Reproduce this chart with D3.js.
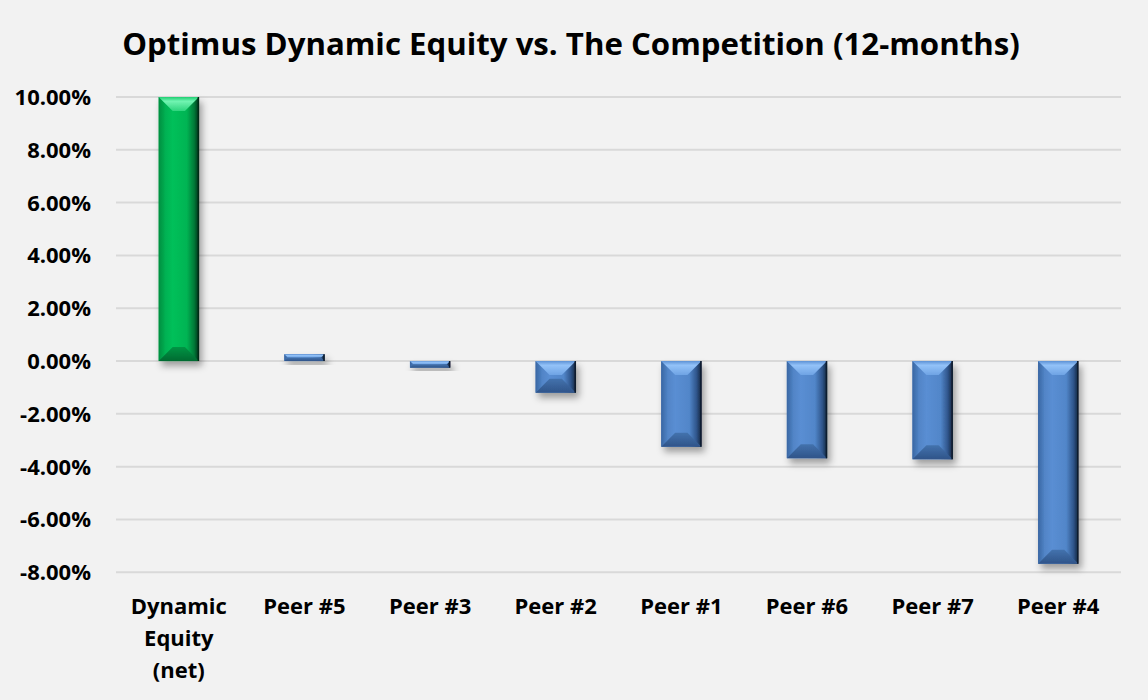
<!DOCTYPE html>
<html>
<head>
<meta charset="utf-8">
<script src="https://cdn.jsdelivr.net/npm/d3@7"></script>
<style>
  html, body { margin: 0; padding: 0; background: #f2f2f2; }
  svg { display: block; }
  text { font-family: "Open Sans", "DejaVu Sans", sans-serif; font-weight: bold; fill: #000; }
</style>
</head>
<body>
<svg id="chart" width="1148" height="700"></svg>
<script>
// ---- Data ----
const categories = ["Dynamic Equity (net)", "Peer #5", "Peer #3", "Peer #2", "Peer #1", "Peer #6", "Peer #7", "Peer #4"];
const returns = [10.0, 0.26, -0.25, -1.2, -3.25, -3.68, -3.72, -7.68];
const highlight = [true, false, false, false, false, false, false, false];
const yTicks = [-8, -6, -4, -2, 0, 2, 4, 6, 8, 10];
const titleText = "Optimus Dynamic Equity vs. The Competition (12-months)";

// ---- Layout ----
const W = 1148, H = 700;
const plot = { left: 116, right: 1121, top: 97, bottom: 572.3 };

const svg = d3.select("#chart");
svg.append("rect").attr("width", W).attr("height", H).attr("fill", "#f2f2f2");

const x = d3.scaleBand().domain(categories).range([plot.left, plot.right]).paddingInner(0.68).paddingOuter(0.34);
const y = d3.scaleLinear().domain([-8, 10]).range([plot.bottom, plot.top]);

// defs: shadow + gradients
const defs = svg.append("defs");
const f = defs.append("filter").attr("id", "shadow").attr("x", "-50%").attr("y", "-50%").attr("width", "200%").attr("height", "200%");
f.append("feDropShadow").attr("dx", 3).attr("dy", 5).attr("stdDeviation", 3.5).attr("flood-color", "#000").attr("flood-opacity", 0.35);

const palettes = {
  blue: {
    face: ["#4a7cbc", "#5a8ed3", "#5186c9", "#2f558b", "#15263d"],
    top: ["#5d92d6", "#93c2f8", "#6ea3e4"],
    bottom: ["#4372ad", "#2f5489"],
    left: ["#3a67a3", "#4d81c3"]
  },
  green: {
    face: ["#00a44b", "#00c05a", "#00b453", "#007a38", "#00331a"],
    top: ["#1fcf72", "#72f4b2", "#2dd47d"],
    bottom: ["#009444", "#006a31"],
    left: ["#008f40", "#00ac50"]
  }
};
Object.entries(palettes).forEach(([k, p]) => {
  const g = defs.append("linearGradient").attr("id", "face-" + k).attr("x1", 0).attr("x2", 1).attr("y1", 0).attr("y2", 0);
  [0, 0.35, 0.7, 0.88, 1].forEach((o, i) => g.append("stop").attr("offset", o).attr("stop-color", p.face[i]));
  const t = defs.append("linearGradient").attr("id", "top-" + k).attr("x1", 0).attr("x2", 0).attr("y1", 0).attr("y2", 1);
  [0, 0.3, 1].forEach((o, i) => t.append("stop").attr("offset", o).attr("stop-color", p.top[i]));
  const b = defs.append("linearGradient").attr("id", "bot-" + k).attr("x1", 0).attr("x2", 0).attr("y1", 0).attr("y2", 1);
  b.append("stop").attr("offset", 0).attr("stop-color", p.bottom[0]);
  b.append("stop").attr("offset", 1).attr("stop-color", p.bottom[1]);
  const l = defs.append("linearGradient").attr("id", "left-" + k).attr("x1", 0).attr("x2", 1).attr("y1", 0).attr("y2", 0);
  l.append("stop").attr("offset", 0).attr("stop-color", p.left[0]);
  l.append("stop").attr("offset", 1).attr("stop-color", p.left[1]);
});

// gridlines
svg.append("g").selectAll("line").data(yTicks).join("line")
  .attr("x1", plot.left).attr("x2", plot.right)
  .attr("y1", d => y(d)).attr("y2", d => y(d))
  .attr("stroke", "#d9d9d9").attr("stroke-width", 2);

// y-axis labels
svg.append("g").selectAll("text").data(yTicks).join("text")
  .attr("x", 91).attr("y", d => y(d)).attr("dy", "0.36em")
  .attr("text-anchor", "end").attr("font-size", 22)
  .text(d => d.toFixed(2) + "%");

// bars
svg.append("g").selectAll("g").data(categories).join("g")
  .attr("filter", "url(#shadow)")
  .each(function(c, i) {
    const v = returns[i];
    const k = highlight[i] ? "green" : "blue";
    const x0 = x(c), w = x.bandwidth();
    const y0 = Math.min(y(v), y(0)), h = Math.abs(y(v) - y(0));
    const b = Math.min(14, h / 2, w / 2);
    const bs = Math.min(6, w / 4);
    const g = d3.select(this);
    g.append("rect").attr("x", x0).attr("y", y0).attr("width", w).attr("height", h).attr("fill", `url(#face-${k})`);
    // left bevel strip
    g.append("polygon").attr("points", [[x0, y0], [x0 + bs, y0 + Math.min(bs, h / 2)], [x0 + bs, y0 + h - Math.min(bs, h / 2)], [x0, y0 + h]].join(" "))
      .attr("fill", `url(#left-${k})`);
    // top bevel
    g.append("polygon").attr("points", [[x0, y0], [x0 + w, y0], [x0 + w - b, y0 + b], [x0 + b, y0 + b]].join(" "))
      .attr("fill", `url(#top-${k})`);
    // bottom bevel
    g.append("polygon").attr("points", [[x0, y0 + h], [x0 + w, y0 + h], [x0 + w - b, y0 + h - b], [x0 + b, y0 + h - b]].join(" "))
      .attr("fill", `url(#bot-${k})`);
    // thin dark edge on the right
    g.append("line").attr("x1", x0 + w - 0.5).attr("x2", x0 + w - 0.5).attr("y1", y0).attr("y2", y0 + h)
      .attr("stroke", k === "green" ? "#002a14" : "#0f1c2e").attr("stroke-width", 1.5);
  });

// category labels (wrapped)
function wrapLines(str, maxW, size) {
  const tmp = svg.append("text").attr("font-size", size);
  const words = str.split(" ");
  const lines = [];
  let cur = "";
  words.forEach(wd => {
    const test = cur ? cur + " " + wd : wd;
    tmp.text(test);
    if (tmp.node().getComputedTextLength() > maxW && cur) { lines.push(cur); cur = wd; }
    else cur = test;
  });
  if (cur) lines.push(cur);
  tmp.remove();
  return lines;
}
const catG = svg.append("g");
categories.forEach(c => {
  const cx = x(c) + x.bandwidth() / 2;
  const lines = wrapLines(c, x.step() - 12, 22);
  const t = catG.append("text").attr("text-anchor", "middle").attr("font-size", 22)
    .attr("x", cx).attr("y", 606);
  lines.forEach((ln, j) => t.append("tspan").attr("x", cx).attr("dy", j === 0 ? "0.36em" : 32).text(ln));
});

// title
const title = svg.append("text").attr("x", 571).attr("y", 44).attr("dy", "0.36em")
  .attr("text-anchor", "middle").attr("font-size", 26).text(titleText);
const tw = title.node().getComputedTextLength();
title.attr("font-size", 26 * 898 / tw);
</script>
</body>
</html>
